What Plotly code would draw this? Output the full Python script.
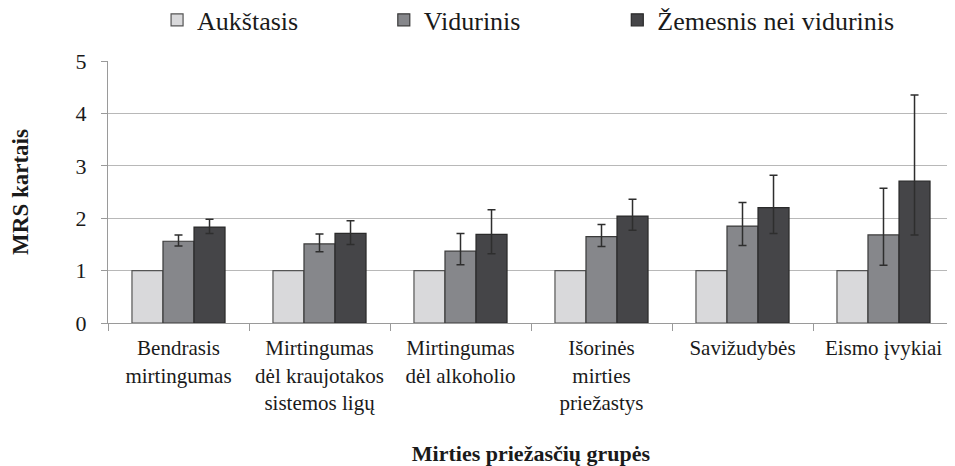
import plotly.graph_objects as go

# Cause-of-death groups (x categories)
categories = [
    "Bendrasis<br>mirtingumas",
    "Mirtingumas<br>dėl kraujotakos<br>sistemos ligų",
    "Mirtingumas<br>dėl alkoholio",
    "Išorinės<br>mirties<br>priežastys",
    "Savižudybės",
    "Eismo įvykiai",
]

# MRS (relative mortality) by education level, with 95% CI
auk = [1.0, 1.0, 1.0, 1.0, 1.0, 1.0]

vid = [1.56, 1.51, 1.37, 1.65, 1.85, 1.68]
vid_low = [1.47, 1.36, 1.11, 1.46, 1.48, 1.10]
vid_high = [1.68, 1.70, 1.71, 1.88, 2.30, 2.57]

zem = [1.83, 1.71, 1.69, 2.04, 2.20, 2.71]
zem_low = [1.71, 1.50, 1.32, 1.77, 1.71, 1.68]
zem_high = [1.98, 1.95, 2.16, 2.36, 2.82, 4.35]

y_ticks = [0, 1, 2, 3, 4, 5]

FONT = "Liberation Serif"


def err(values, low, high):
    return dict(
        type="data",
        symmetric=False,
        array=[h - v for v, h in zip(values, high)],
        arrayminus=[v - l for v, l in zip(values, low)],
        color="#2e2e2e",
        thickness=1.5,
        width=4,
    )


fig = go.Figure()

fig.add_trace(go.Bar(
    x=categories, y=auk, name="Aukštasis", legend="legend",
    marker=dict(color="#d9d9db", line=dict(color="#555555", width=1.2)),
))
fig.add_trace(go.Bar(
    x=categories, y=vid, name="Vidurinis", legend="legend2",
    marker=dict(color="#86878b", line=dict(color="#3a3a3a", width=1.2)),
    error_y=err(vid, vid_low, vid_high),
))
fig.add_trace(go.Bar(
    x=categories, y=zem, name="Žemesnis nei vidurinis", legend="legend3",
    marker=dict(color="#454548", line=dict(color="#2a2a2a", width=1.2)),
    error_y=err(zem, zem_low, zem_high),
))


def legend_at(x):
    return dict(
        orientation="h",
        x=x, xanchor="left",
        y=0.974, yanchor="middle",
        yref="container",
        font=dict(size=26, family=FONT),
        bgcolor="rgba(0,0,0,0)",
    )


# page body has an 8px margin, so the figure is 8px smaller than the window
fig.update_layout(
    width=947, height=458,
    margin=dict(l=100, r=1, t=53, b=143),
    paper_bgcolor="white",
    plot_bgcolor="white",
    font=dict(family=FONT, color="#1a1a1a", size=21),
    barmode="group",
    bargap=0.34,
    bargroupgap=0,
    showlegend=True,
    legend=legend_at(0.058),
    legend2=legend_at(0.326),
    legend3=legend_at(0.602),
)

fig.update_xaxes(
    type="category",
    automargin=False,
    tickson="boundaries",
    ticks="outside",
    ticklen=7,
    tickcolor="#9a9a9a",
    ticklabelstandoff=6,
    showline=True,
    linecolor="#9a9a9a",
    linewidth=1,
    showgrid=False,
    tickfont=dict(size=21),
    title=dict(text="<b>Mirties priežasčių grupės</b>", font=dict(size=22), standoff=32),
)

fig.update_yaxes(
    range=[0, 5],
    tickvals=y_ticks,
    automargin=False,
    ticks="outside",
    ticklen=6,
    tickcolor="#9a9a9a",
    ticklabelstandoff=10,
    showline=True,
    linecolor="#9a9a9a",
    linewidth=1,
    showgrid=True,
    gridcolor="#b8b8b8",
    gridwidth=1.2,
    zeroline=False,
    tickfont=dict(size=22),
    title=dict(text="<b>MRS kartais</b>", font=dict(size=23), standoff=45),
)

fig.write_html("out.html")
